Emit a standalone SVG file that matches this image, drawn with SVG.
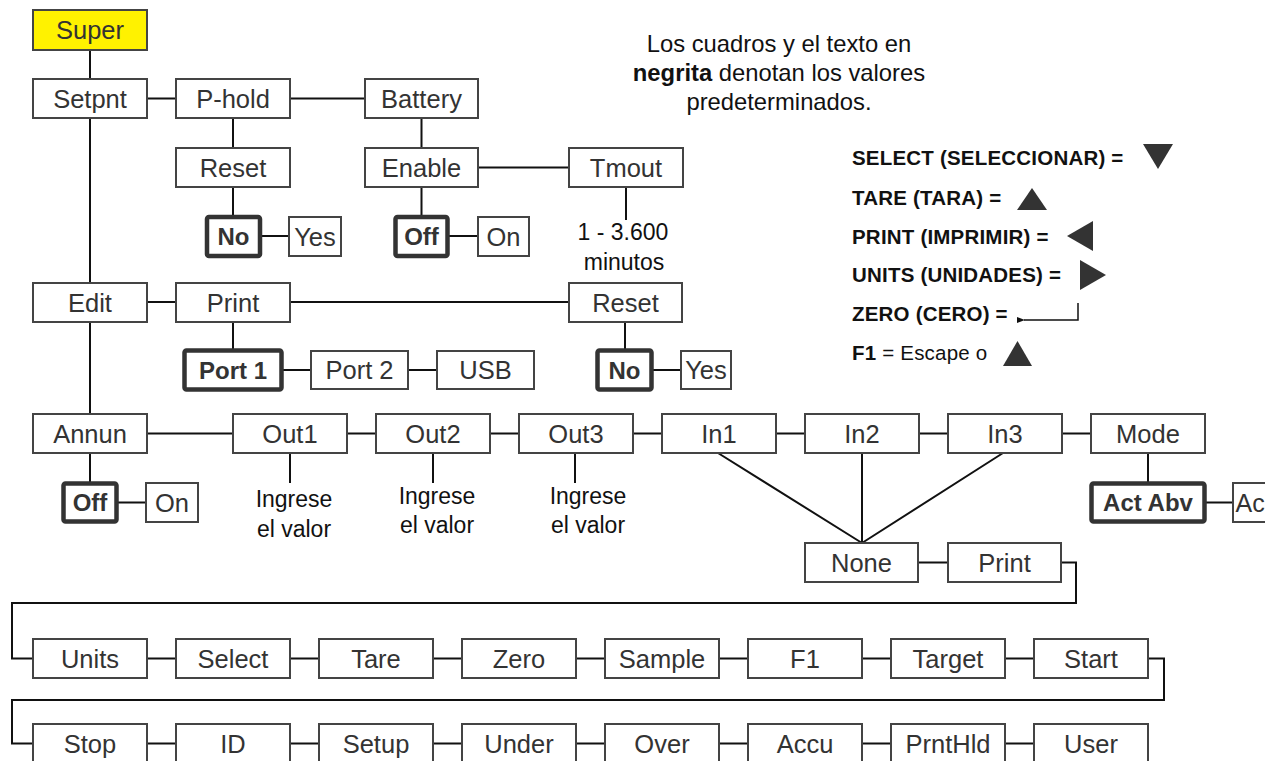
<svg xmlns="http://www.w3.org/2000/svg" width="1265" height="761" viewBox="0 0 1265 761">
<style>
.b{fill:#fff;stroke:#444;stroke-width:2}
.bb{fill:#fff;stroke:#333;stroke-width:4.5}
.t{font-family:"Liberation Sans",Arial,sans-serif;font-size:25.5px;fill:#333;text-anchor:middle}
.tb{font-family:"Liberation Sans",Arial,sans-serif;font-size:24px;font-weight:bold;fill:#333;text-anchor:middle}
.n{font-family:"Liberation Sans",Arial,sans-serif;font-size:23px;fill:#111;text-anchor:middle}
.lg{font-family:"Liberation Sans",Arial,sans-serif;font-size:20.5px;font-weight:bold;fill:#111;letter-spacing:0.2px}
.c{fill:none;stroke:#111;stroke-width:2}
.tri{fill:#333}
</style>
<defs>
<marker id="ah" markerWidth="8" markerHeight="6" refX="1" refY="3" orient="auto" markerUnits="userSpaceOnUse">
<path d="M8,0 L0,3 L8,6 Z" fill="#111"/>
</marker>
</defs>
<rect width="1265" height="761" fill="#fff"/>
<g id="connectors" class="c">
<path d="M90,50V79M90,118V283M90,322V414"/>
<path d="M147,98.5H176M290,98.5H365"/>
<path d="M233,118V148M233,187V215M261,236H289"/>
<path d="M421.5,118V148M421.5,187V215M449,236H478M478,167.5H569M626,187V220"/>
<path d="M147,302H176M290,302H569M233,322V349M283,370H311M408,370H437M625,322V349M653,370H681"/>
<path d="M147,433.5H233M347,433.5H376M490,433.5H519M633,433.5H662M776,433.5H805M919,433.5H948M1062,433.5H1091"/>
<path d="M90,453V482M118,502.5H146"/>
<path d="M290,453V483M433,453V483M575,453V483"/>
<path d="M718,453L862,543M862,453V543M1003,453L862,543"/>
<path d="M1148,453V482M1206,502.5H1233"/>
<path d="M918,562.5H948M1061,562.5H1076V603H12V658.5H33"/>
<path d="M147,658.5H176M290,658.5H319M433,658.5H462M576,658.5H605M719,658.5H748M862,658.5H891M1005,658.5H1034"/>
<path d="M1148,658.5H1164V700H12V743.5H33"/>
<path d="M147,743.5H176M290,743.5H319M433,743.5H462M576,743.5H605M719,743.5H748M862,743.5H891M1005,743.5H1034"/>
</g>
<g id="super"><rect x="33" y="10" width="114" height="40" fill="#FFF200" stroke="#444" stroke-width="2"/><text class="t" x="90" y="39">Super</text></g>
<g id="setpnt"><rect class="b" x="33" y="79" width="114" height="39"/><text class="t" x="90" y="107.5">Setpnt</text></g>
<g id="phold"><rect class="b" x="176" y="79" width="114" height="39"/><text class="t" x="233" y="107.5">P-hold</text></g>
<g id="battery"><rect class="b" x="365" y="79" width="113" height="39"/><text class="t" x="421.5" y="107.5">Battery</text></g>
<g id="reset1"><rect class="b" x="176" y="148" width="114" height="39"/><text class="t" x="233" y="176.5">Reset</text></g>
<g id="enable"><rect class="b" x="365" y="148" width="113" height="39"/><text class="t" x="421.5" y="176.5">Enable</text></g>
<g id="tmout"><rect class="b" x="569" y="148" width="114" height="39"/><text class="t" x="626" y="176.5">Tmout</text></g>
<g id="no1"><rect class="bb" x="207" y="217" width="53" height="39" rx="2"/><text class="tb" x="233.5" y="245">No</text></g>
<g id="yes1"><rect class="b" x="289" y="217" width="52" height="39"/><text class="t" x="315" y="245.5">Yes</text></g>
<g id="off1"><rect class="bb" x="395.5" y="217" width="52" height="39" rx="2"/><text class="tb" x="421.5" y="245">Off</text></g>
<g id="on1"><rect class="b" x="478" y="217" width="51" height="39"/><text class="t" x="503.5" y="245.5">On</text></g>
<g id="tmoutval"><text class="n" x="623" y="240">1 - 3.600</text><text class="n" x="624" y="270">minutos</text></g>
<g id="edit"><rect class="b" x="33" y="283" width="114" height="39"/><text class="t" x="90" y="311.5">Edit</text></g>
<g id="print1"><rect class="b" x="176" y="283" width="114" height="39"/><text class="t" x="233" y="311.5">Print</text></g>
<g id="reset2"><rect class="b" x="569" y="283" width="113" height="39"/><text class="t" x="625.5" y="311.5">Reset</text></g>
<g id="port1"><rect class="bb" x="184.5" y="350.5" width="97" height="39" rx="2"/><text class="tb" x="233" y="378.5">Port 1</text></g>
<g id="port2"><rect class="b" x="311" y="351" width="97" height="38"/><text class="t" x="359.5" y="379">Port 2</text></g>
<g id="usb"><rect class="b" x="437" y="351" width="97" height="38"/><text class="t" x="485.5" y="379">USB</text></g>
<g id="no2"><rect class="bb" x="597.5" y="350.5" width="54" height="39" rx="2"/><text class="tb" x="624.5" y="378.5">No</text></g>
<g id="yes2"><rect class="b" x="681" y="351" width="50" height="38"/><text class="t" x="706" y="379">Yes</text></g>
<g id="annun"><rect class="b" x="33" y="414" width="114" height="39"/><text class="t" x="90" y="442.5">Annun</text></g>
<g id="out1"><rect class="b" x="233" y="414" width="114" height="39"/><text class="t" x="290" y="442.5">Out1</text></g>
<g id="out2"><rect class="b" x="376" y="414" width="114" height="39"/><text class="t" x="433" y="442.5">Out2</text></g>
<g id="out3"><rect class="b" x="519" y="414" width="114" height="39"/><text class="t" x="576" y="442.5">Out3</text></g>
<g id="in1"><rect class="b" x="662" y="414" width="114" height="39"/><text class="t" x="719" y="442.5">In1</text></g>
<g id="in2"><rect class="b" x="805" y="414" width="114" height="39"/><text class="t" x="862" y="442.5">In2</text></g>
<g id="in3"><rect class="b" x="948" y="414" width="114" height="39"/><text class="t" x="1005" y="442.5">In3</text></g>
<g id="mode"><rect class="b" x="1091" y="414" width="114" height="39"/><text class="t" x="1148" y="442.5">Mode</text></g>
<g id="off2"><rect class="bb" x="63.5" y="483.5" width="53" height="38" rx="2"/><text class="tb" x="90" y="511">Off</text></g>
<g id="on2"><rect class="b" x="146" y="483" width="52" height="39"/><text class="t" x="172" y="511.5">On</text></g>
<g id="val1"><text class="n" x="294" y="507">Ingrese</text><text class="n" x="294" y="537">el valor</text></g>
<g id="val2"><text class="n" x="437" y="504">Ingrese</text><text class="n" x="437" y="533">el valor</text></g>
<g id="val3"><text class="n" x="588" y="504">Ingrese</text><text class="n" x="588" y="533">el valor</text></g>
<g id="actabv"><rect class="bb" x="1091.5" y="483.5" width="113" height="38" rx="2"/><text class="tb" x="1148" y="511">Act Abv</text></g>
<g id="actblw"><rect class="b" x="1233" y="483" width="40" height="39"/><text class="t" x="1235.5" y="511.5" style="text-anchor:start;font-size:25px">Ac</text></g>
<g id="none"><rect class="b" x="805" y="543" width="113" height="39"/><text class="t" x="861.5" y="571.5">None</text></g>
<g id="print2"><rect class="b" x="948" y="543" width="113" height="39"/><text class="t" x="1004.5" y="571.5">Print</text></g>
<g id="units"><rect class="b" x="33" y="639" width="114" height="39"/><text class="t" x="90" y="667.5">Units</text></g>
<g id="select"><rect class="b" x="176" y="639" width="114" height="39"/><text class="t" x="233" y="667.5">Select</text></g>
<g id="tare"><rect class="b" x="319" y="639" width="114" height="39"/><text class="t" x="376" y="667.5">Tare</text></g>
<g id="zero"><rect class="b" x="462" y="639" width="114" height="39"/><text class="t" x="519" y="667.5">Zero</text></g>
<g id="sample"><rect class="b" x="605" y="639" width="114" height="39"/><text class="t" x="662" y="667.5">Sample</text></g>
<g id="f1"><rect class="b" x="748" y="639" width="114" height="39"/><text class="t" x="805" y="667.5">F1</text></g>
<g id="target"><rect class="b" x="891" y="639" width="114" height="39"/><text class="t" x="948" y="667.5">Target</text></g>
<g id="start"><rect class="b" x="1034" y="639" width="114" height="39"/><text class="t" x="1091" y="667.5">Start</text></g>
<g id="stop"><rect class="b" x="33" y="724" width="114" height="39"/><text class="t" x="90" y="752.5">Stop</text></g>
<g id="id"><rect class="b" x="176" y="724" width="114" height="39"/><text class="t" x="233" y="752.5">ID</text></g>
<g id="setup"><rect class="b" x="319" y="724" width="114" height="39"/><text class="t" x="376" y="752.5">Setup</text></g>
<g id="under"><rect class="b" x="462" y="724" width="114" height="39"/><text class="t" x="519" y="752.5">Under</text></g>
<g id="over"><rect class="b" x="605" y="724" width="114" height="39"/><text class="t" x="662" y="752.5">Over</text></g>
<g id="accu"><rect class="b" x="748" y="724" width="114" height="39"/><text class="t" x="805" y="752.5">Accu</text></g>
<g id="prnthld"><rect class="b" x="891" y="724" width="114" height="39"/><text class="t" x="948" y="752.5">PrntHld</text></g>
<g id="user"><rect class="b" x="1034" y="724" width="114" height="39"/><text class="t" x="1091" y="752.5">User</text></g>
<g id="note" font-family="Liberation Sans, Arial, sans-serif" font-size="23.8" fill="#111" text-anchor="middle">
<text x="779" y="52">Los cuadros y el texto en</text>
<text x="779" y="81"><tspan font-weight="bold">negrita</tspan> denotan los valores</text>
<text x="779" y="110">predeterminados.</text>
</g>
<g id="legend">
<text class="lg" x="852" y="165">SELECT (SELECCIONAR) =</text>
<polygon class="tri" points="1143,144 1173,144 1158,169"/>
<text class="lg" x="852" y="205">TARE (TARA) =</text>
<polygon class="tri" points="1017,210 1047,210 1032,188"/>
<text class="lg" x="852" y="244">PRINT (IMPRIMIR) =</text>
<polygon class="tri" points="1067,236 1093,221 1093,251"/>
<text class="lg" x="852" y="282">UNITS (UNIDADES) =</text>
<polygon class="tri" points="1080,260 1106,275 1080,290"/>
<text class="lg" x="852" y="321">ZERO (CERO) =</text>
<path d="M1078,303V320H1024" fill="none" stroke="#111" stroke-width="1.5" marker-end="url(#ah)"/>
<text class="lg" x="852" y="360">F1 <tspan font-weight="normal">= Escape o</tspan></text>
<polygon class="tri" points="1003,366 1032,366 1017.5,341"/>
</g>
</svg>
